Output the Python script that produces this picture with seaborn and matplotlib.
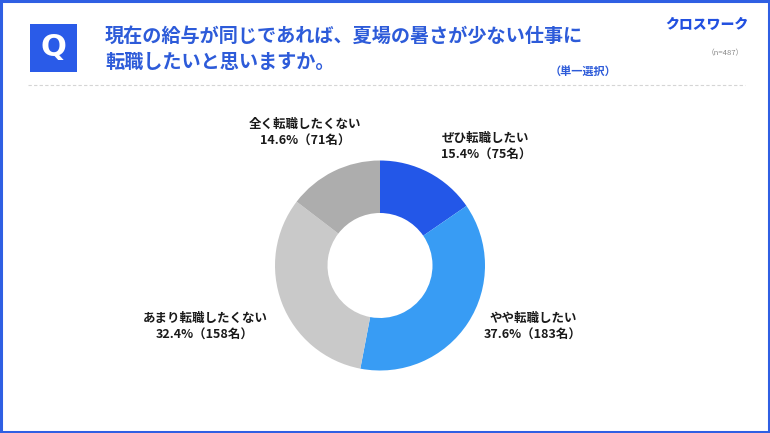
import matplotlib
matplotlib.use("Agg")
import matplotlib.pyplot as plt
from matplotlib.patches import Rectangle
from matplotlib.lines import Line2D
import seaborn as sns

# ---- data ----
categories = ["ぜひ転職したい", "やや転職したい", "あまり転職したくない", "全く転職したくない"]
percents = [15.4, 37.6, 32.4, 14.6]
counts = [75, 183, 158, 71]
colors = ["#2357E8", "#389CF4", "#C9C9C9", "#ADADAD"]
title_lines = ["現在の給与が同じであれば、夏場の暑さが少ない仕事に", "転職したいと思いますか。"]
sample_note = "（n=487）"
select_note = "（単一選択）"
brand = "クロスワーク"

sns.set_style("white")
plt.rcParams['font.family'] = ['Noto Sans CJK JP', 'DejaVu Sans']

W, H = 770, 433
fig = plt.figure(figsize=(W / 100, H / 100), dpi=100)
fig.patch.set_facecolor("white")

def fx(px):
    return px / W

def fy(py):
    return 1 - py / H

# outer frame
fig.add_artist(Rectangle((0.0015, 0.002), 0.997, 0.996, transform=fig.transFigure,
                         fill=False, edgecolor="#2F5FE3", linewidth=2.2))

# Q box
fig.add_artist(Rectangle((fx(30), fy(72)), fx(47), 48 / H, transform=fig.transFigure,
                         facecolor="#2A5BE8", edgecolor="none"))
fig.text(fx(53.5), fy(48), "Q", color="white", fontsize=22, fontweight="bold",
         ha="center", va="center", family=["DejaVu Sans"])

# title
blue_text = "#2D5BD9"
fig.text(fx(105), fy(36), title_lines[0], color=blue_text, fontsize=13.8,
         fontweight="bold", ha="left", va="center")
fig.text(fx(105), fy(62), title_lines[1], color=blue_text, fontsize=13.8,
         fontweight="bold", ha="left", va="center")

# brand & notes
fig.text(fx(749), fy(25), brand, color="#2250E0", fontsize=10, fontweight="heavy",
         ha="right", va="center", style="italic")
fig.text(fx(744), fy(53), sample_note, color="#888888", fontsize=5.5,
         ha="right", va="center")
fig.text(fx(616), fy(71), select_note, color=blue_text, fontsize=8,
         fontweight="bold", ha="right", va="center")

# dashed separator
fig.add_artist(Line2D([fx(28), fx(745)], [fy(85), fy(85)], transform=fig.transFigure,
                      color="#D5D5D5", linewidth=0.8, linestyle=(0, (3, 2))))

# donut
cx, cy, r = 380, 265.5, 105
ax = fig.add_axes([fx(cx - r), fy(cy + r), 2 * r / W, 2 * r / H])
ax.pie(percents, colors=colors, startangle=90, counterclock=False, radius=1.0,
       wedgeprops=dict(width=0.5, edgecolor="none"))
ax.set_xlim(-1, 1)
ax.set_ylim(-1, 1)
ax.set_aspect("auto")
ax.axis("off")

# labels (positions in pixels)
label_pos = [(486, 138), (533, 318), (205, 318), (305, 124)]
for cat, p, n, (lx, ly) in zip(categories, percents, counts, label_pos):
    fig.text(fx(lx), fy(ly), cat, fontsize=9, fontweight="bold", color="#1A1A1A",
             ha="center", va="center")
    fig.text(fx(lx), fy(ly + 17), f"{p:.1f}%（{n}名）", fontsize=9, fontweight="bold",
             color="#1A1A1A", ha="center", va="center")

fig.savefig("out.png", dpi=100, facecolor="white")
